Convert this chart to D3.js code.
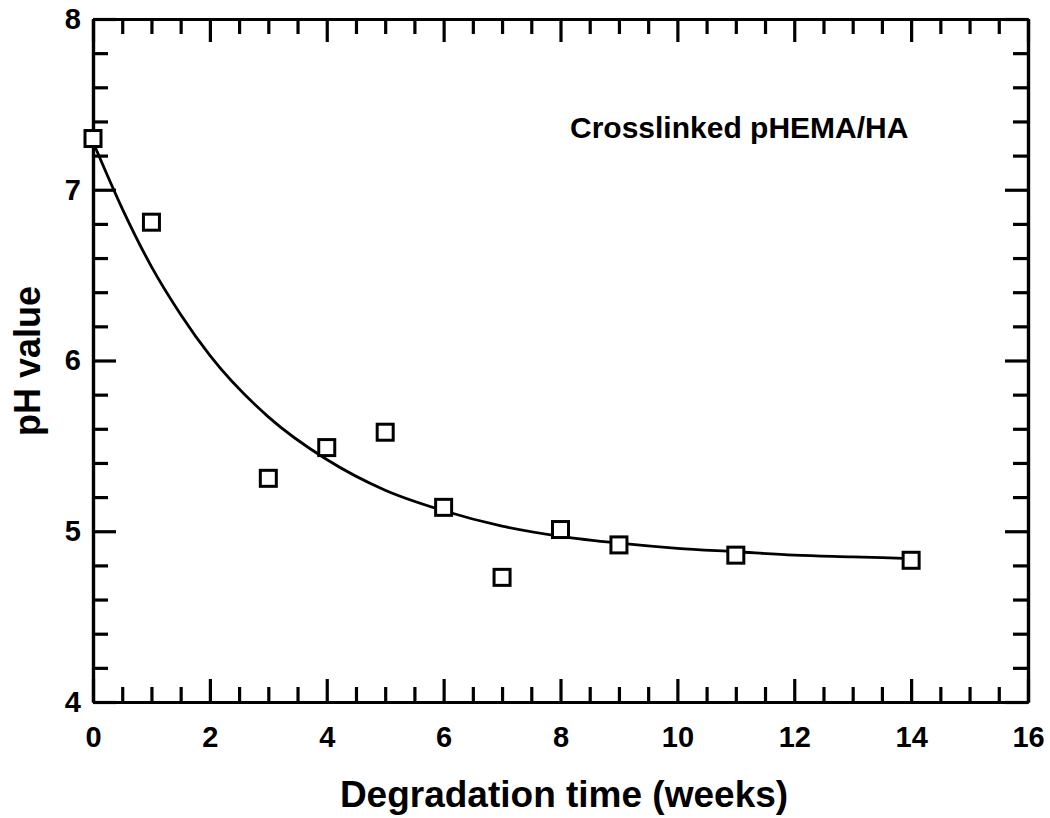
<!DOCTYPE html>
<html>
<head>
<meta charset="utf-8">
<script src="https://cdn.jsdelivr.net/npm/d3@7"></script>
<style>
  html, body { margin: 0; padding: 0; background: #fff; }
  svg { display: block; }
  text { font-family: "Liberation Sans", Arial, sans-serif; font-weight: bold; fill: #000; }
</style>
</head>
<body>
<svg id="chart" width="1050" height="818"></svg>
<script>
// Measured data (weeks, pH)
const weeks = [0, 1, 3, 4, 5, 6, 7, 8, 9, 11, 14];
const phValues = [7.30, 6.81, 5.31, 5.49, 5.58, 5.14, 4.73, 5.01, 4.92, 4.86, 4.83];

// Fitted curve
const fitWeeks = [0, 0.5, 1, 1.5, 2, 3, 4, 5, 6, 7, 8, 9, 10, 11, 12, 13, 14];
const fitValues = [7.28, 6.89, 6.55, 6.27, 6.03, 5.67, 5.42, 5.24, 5.12, 5.03, 4.97, 4.93, 4.90, 4.88, 4.86, 4.85, 4.84];

const xMajorTicks = [0, 2, 4, 6, 8, 10, 12, 14, 16];
const yMajorTicks = [4, 5, 6, 7, 8];

const xTitle = "Degradation time (weeks)";
const yTitle = "pH value";
const annotation = "Crosslinked pHEMA/HA";

const svg = d3.select("#chart");
const pLeft = 93, pRight = 1028, pTop = 19, pBottom = 702;

const x = d3.scaleLinear().domain([0, 16]).range([pLeft, pRight]);
const y = d3.scaleLinear().domain([4, 8]).range([pBottom, pTop]);

const xMinor = d3.range(0, 16.001, 0.5).filter(v => Math.abs(v / 2 - Math.round(v / 2)) > 1e-6);
const yMinor = d3.range(4, 8.001, 0.2).filter(v => Math.abs(v - Math.round(v)) > 1e-6);

const axisW = 3.2;

// Bottom axis: ticks inward (up)
const gB = svg.append("g").attr("transform", `translate(0,${pBottom})`);
gB.call(d3.axisBottom(x).tickValues(xMajorTicks).tickSizeInner(-23).tickSizeOuter(0).tickPadding(24).tickFormat(d3.format("d")));
gB.append("g").call(d3.axisBottom(x).tickValues(xMinor).tickSizeInner(-15).tickSizeOuter(0).tickFormat(""));

// Top axis: ticks inward (down)
const gT = svg.append("g").attr("transform", `translate(0,${pTop})`);
gT.call(d3.axisTop(x).tickValues(xMajorTicks).tickSizeInner(-23).tickSizeOuter(0).tickFormat(""));
gT.append("g").call(d3.axisTop(x).tickValues(xMinor).tickSizeInner(-15).tickSizeOuter(0).tickFormat(""));

// Left axis: ticks inward (right)
const gL = svg.append("g").attr("transform", `translate(${pLeft},0)`);
gL.call(d3.axisLeft(y).tickValues(yMajorTicks).tickSizeInner(-23).tickSizeOuter(0).tickPadding(12).tickFormat(d3.format("d")));
gL.append("g").call(d3.axisLeft(y).tickValues(yMinor).tickSizeInner(-15).tickSizeOuter(0).tickFormat(""));

// Right axis: ticks inward (left)
const gR = svg.append("g").attr("transform", `translate(${pRight},0)`);
gR.call(d3.axisRight(y).tickValues(yMajorTicks).tickSizeInner(-23).tickSizeOuter(0).tickFormat(""));
gR.append("g").call(d3.axisRight(y).tickValues(yMinor).tickSizeInner(-15).tickSizeOuter(0).tickFormat(""));

svg.selectAll(".domain").attr("stroke", "#000").attr("stroke-width", axisW);
svg.selectAll(".tick line").attr("stroke", "#000").attr("stroke-width", 3.2);
svg.selectAll(".tick text").attr("font-size", 29).attr("font-family", "Liberation Sans, Arial, sans-serif").attr("font-weight", "bold").attr("fill", "#000");
gL.selectAll(":scope > .tick text").attr("x", -12).attr("text-anchor", "end");
gB.selectAll(":scope > .tick text").attr("y", 24);

// Fitted curve
const line = d3.line().x((d, i) => x(fitWeeks[i])).y(d => y(d)).curve(d3.curveMonotoneX);
svg.append("path")
  .datum(fitValues)
  .attr("d", line)
  .attr("fill", "none")
  .attr("stroke", "#000")
  .attr("stroke-width", 2.8);

// Data squares
const s = 16;
svg.append("g").selectAll("rect")
  .data(phValues)
  .join("rect")
  .attr("x", (d, i) => x(weeks[i]) - s / 2)
  .attr("y", d => y(d) - s / 2)
  .attr("width", s)
  .attr("height", s)
  .attr("fill", "#fff")
  .attr("stroke", "#000")
  .attr("stroke-width", 3);

// Titles
svg.append("text")
  .attr("x", 564).attr("y", 807)
  .attr("text-anchor", "middle")
  .attr("font-size", 37)
  .text(xTitle);

svg.append("text")
  .attr("transform", "translate(40,361) rotate(-90)")
  .attr("text-anchor", "middle")
  .attr("font-size", 36)
  .text(yTitle);

svg.append("text")
  .attr("x", 570).attr("y", 138)
  .attr("font-size", 30)
  .text(annotation);
</script>
</body>
</html>
